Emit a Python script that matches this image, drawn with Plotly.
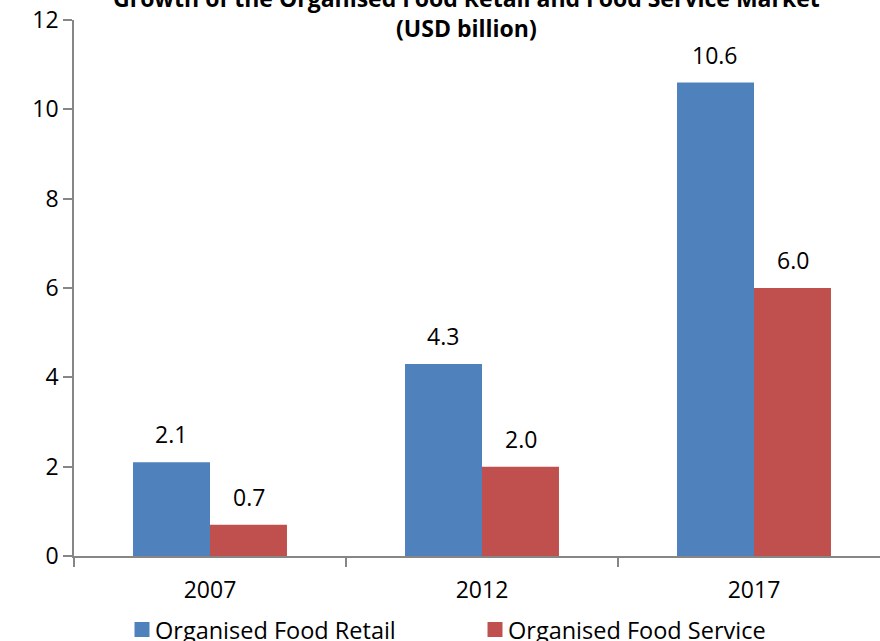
import plotly.graph_objects as go

years = ["2007", "2012", "2017"]
food_retail = [2.1, 4.3, 10.6]
food_service = [0.7, 2.0, 6.0]
series_names = ["Organised Food Retail", "Organised Food Service"]
series_colors = ["#4F81BD", "#C0504D"]
y_ticks = [0, 2, 4, 6, 8, 10, 12]
title_lines = ["Growth of the Organised Food Retail and Food Service Market", "(USD billion)"]

FONT = "Open Sans"
AXIS_GREY = "#868686"

# plot area geometry (pixels)
PLOT_L, PLOT_W = 74, 806
PLOT_T, PLOT_H = 20, 536


def px_to_paper_x(px):
    return (px - PLOT_L) / PLOT_W


def px_to_paper_y(py):
    return (PLOT_T + PLOT_H - py) / PLOT_H


fig = go.Figure()
for name, vals, col in zip(series_names, [food_retail, food_service], series_colors):
    fig.add_trace(go.Bar(
        x=years, y=vals, name=name,
        marker=dict(color=col, line=dict(width=0)),
        showlegend=False,
    ))

# value labels above each bar
annotations = []
for i, vals in enumerate([food_retail, food_service]):
    for j, v in enumerate(vals):
        annotations.append(dict(
            x=j + (-0.1416 if i == 0 else 0.1416), y=v, xref="x", yref="y",
            text=f"{v:.1f}", showarrow=False, yanchor="bottom", yshift=10,
            font=dict(family=FONT, size=23, color="#000000"),
        ))

# legend row below the axis: coloured square + series name
legend_items = [(142, 153), (495, 506)]
shapes = []
for (sq_x, txt_x), name, col in zip(legend_items, series_names, series_colors):
    shapes.append(dict(
        type="rect", xref="paper", yref="paper",
        x0=px_to_paper_x(sq_x - 7.5), x1=px_to_paper_x(sq_x + 7.5),
        y0=px_to_paper_y(637), y1=px_to_paper_y(622),
        fillcolor=col, line=dict(width=0),
    ))
    annotations.append(dict(
        x=px_to_paper_x(txt_x), y=px_to_paper_y(630), xref="paper", yref="paper",
        text=name, showarrow=False, xanchor="left", yanchor="middle",
        font=dict(family=FONT, size=23.5, color="#000000"),
    ))

fig.update_layout(
    width=880, height=641,
    margin=dict(l=PLOT_L, r=0, t=PLOT_T, b=641 - PLOT_T - PLOT_H, autoexpand=False),
    paper_bgcolor="white", plot_bgcolor="white",
    barmode="group", bargap=0.434, bargroupgap=0,
    showlegend=False,
    title=dict(text="<b>" + "<br>".join(title_lines) + "</b>",
               x=0.53, xanchor="center", xref="container",
               y=1 - 7 / 641, yanchor="bottom", yref="container",
               font=dict(family=FONT, size=23, color="#000000")),
    annotations=annotations,
    shapes=shapes,
)
fig.update_xaxes(
    type="category", range=[-0.5, -0.5 + PLOT_W / 272],
    showline=True, linecolor=AXIS_GREY, linewidth=1.5,
    ticks="outside", tickson="boundaries", ticklen=9, tickcolor=AXIS_GREY, tickwidth=1.5,
    ticklabelstandoff=13,
    tickfont=dict(family=FONT, size=23, color="#000000"),
    showgrid=False, zeroline=False,
)
fig.update_yaxes(
    range=[0, 12], tickvals=y_ticks,
    showline=True, linecolor=AXIS_GREY, linewidth=1.5,
    ticks="outside", ticklen=9, tickcolor=AXIS_GREY, tickwidth=1.5,
    tickfont=dict(family=FONT, size=23, color="#000000"),
    showgrid=False, zeroline=False,
)

fig.write_html("out.html")
